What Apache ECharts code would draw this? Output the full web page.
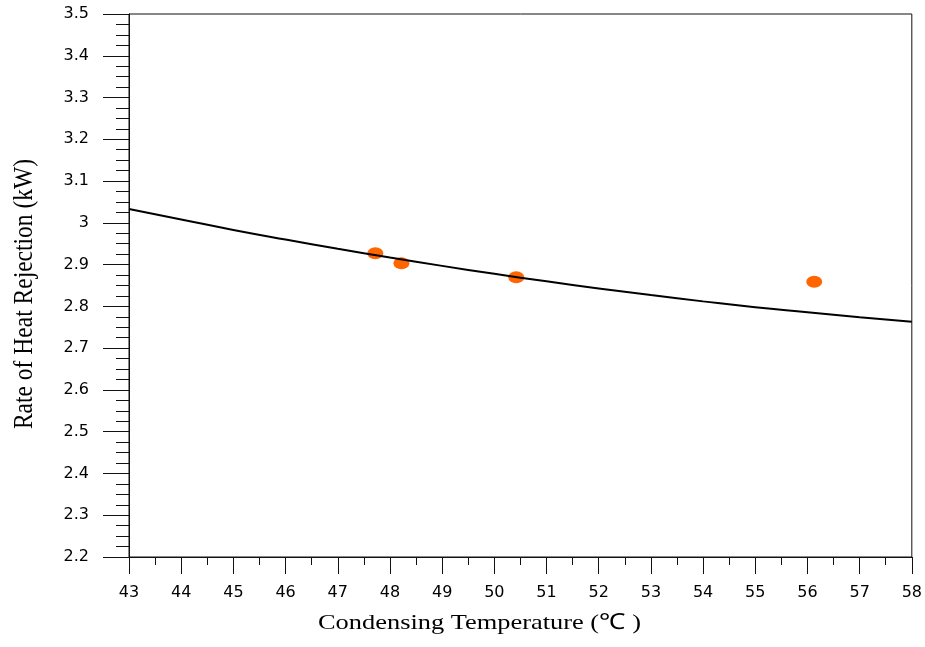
<!DOCTYPE html>
<html>
<head>
<meta charset="utf-8">
<script src="https://cdn.jsdelivr.net/npm/echarts@6/dist/echarts.min.js"></script>
<style>
html, body { margin: 0; padding: 0; background: #fff; }
#main { width: 925px; height: 647px; }
</style>
</head>
<body>
<div id="main"></div>
<script>
// fitted curve at each degree
var curveX = [43, 44, 45, 46, 47, 48, 49, 50, 51, 52, 53, 54, 55, 56, 57, 58];
var curveY = [3.033, 3.008, 2.983, 2.960, 2.938, 2.917, 2.897, 2.878, 2.860, 2.843, 2.827, 2.812, 2.798, 2.786, 2.774, 2.763];

// measured points
var pointX = [47.72, 48.22, 50.42, 56.13];
var pointY = [2.927, 2.903, 2.870, 2.859];

var xTitle = 'Condensing Temperature (℃ )';
var yTitle = 'Rate of Heat Rejection (kW)';

var myChart = echarts.init(document.getElementById('main'));

var curveData = [];
for (var i = 0; i < curveX.length; i++) {
    curveData.push([curveX[i], curveY[i]]);
}
var pointData = [];
for (var j = 0; j < pointX.length; j++) {
    pointData.push([pointX[j], pointY[j]]);
}

var option = {
    animation: false,
    grid: {
        left: 129,
        right: 13,
        top: 14,
        bottom: 90,
        show: true,
        borderColor: '#111',
        borderWidth: 1
    },
    xAxis: {
        type: 'value',
        min: 43,
        max: 58,
        interval: 1,
        axisLine: { lineStyle: { color: '#111', width: 1 } },
        axisTick: { show: true, length: 17, lineStyle: { color: '#111' } },
        minorTick: { show: true, splitNumber: 2, length: 8, lineStyle: { color: '#111' } },
        splitLine: { show: false },
        axisLabel: {
            margin: 28,
            color: '#000',
            fontFamily: 'DejaVu Sans',
            fontSize: 16
        }
    },
    yAxis: {
        type: 'value',
        min: 2.2,
        max: 3.5,
        interval: 0.1,
        axisLine: { show: true, lineStyle: { color: '#111', width: 1 } },
        axisTick: { show: true, length: 26, lineStyle: { color: '#111' } },
        minorTick: { show: true, splitNumber: 4, length: 13, lineStyle: { color: '#111' } },
        splitLine: { show: false },
        axisLabel: {
            margin: 40,
            color: '#000',
            fontFamily: 'DejaVu Sans',
            fontSize: 16
        }
    },
    graphic: [
        {
            type: 'text',
            x: 318,
            y: 623,
            scaleX: 1.2,
            style: {
                text: xTitle,
                font: '22px "Liberation Serif"',
                fill: '#000',
                align: 'left',
                verticalAlign: 'middle'
            }
        },
        {
            type: 'text',
            x: 25,
            y: 294,
            rotation: Math.PI / 2,
            scaleY: 1.15,
            style: {
                text: yTitle,
                font: '23.5px "Liberation Serif"',
                fill: '#000',
                align: 'center',
                verticalAlign: 'middle'
            }
        }
    ],
    series: [
        {
            type: 'line',
            data: curveData,
            smooth: true,
            showSymbol: false,
            lineStyle: { color: '#000', width: 2 },
            z: 3
        },
        {
            type: 'scatter',
            data: pointData,
            symbol: 'circle',
            symbolSize: [16, 12],
            itemStyle: { color: '#FF6600', opacity: 1 },
            z: 2
        }
    ]
};

myChart.setOption(option);
</script>
</body>
</html>
